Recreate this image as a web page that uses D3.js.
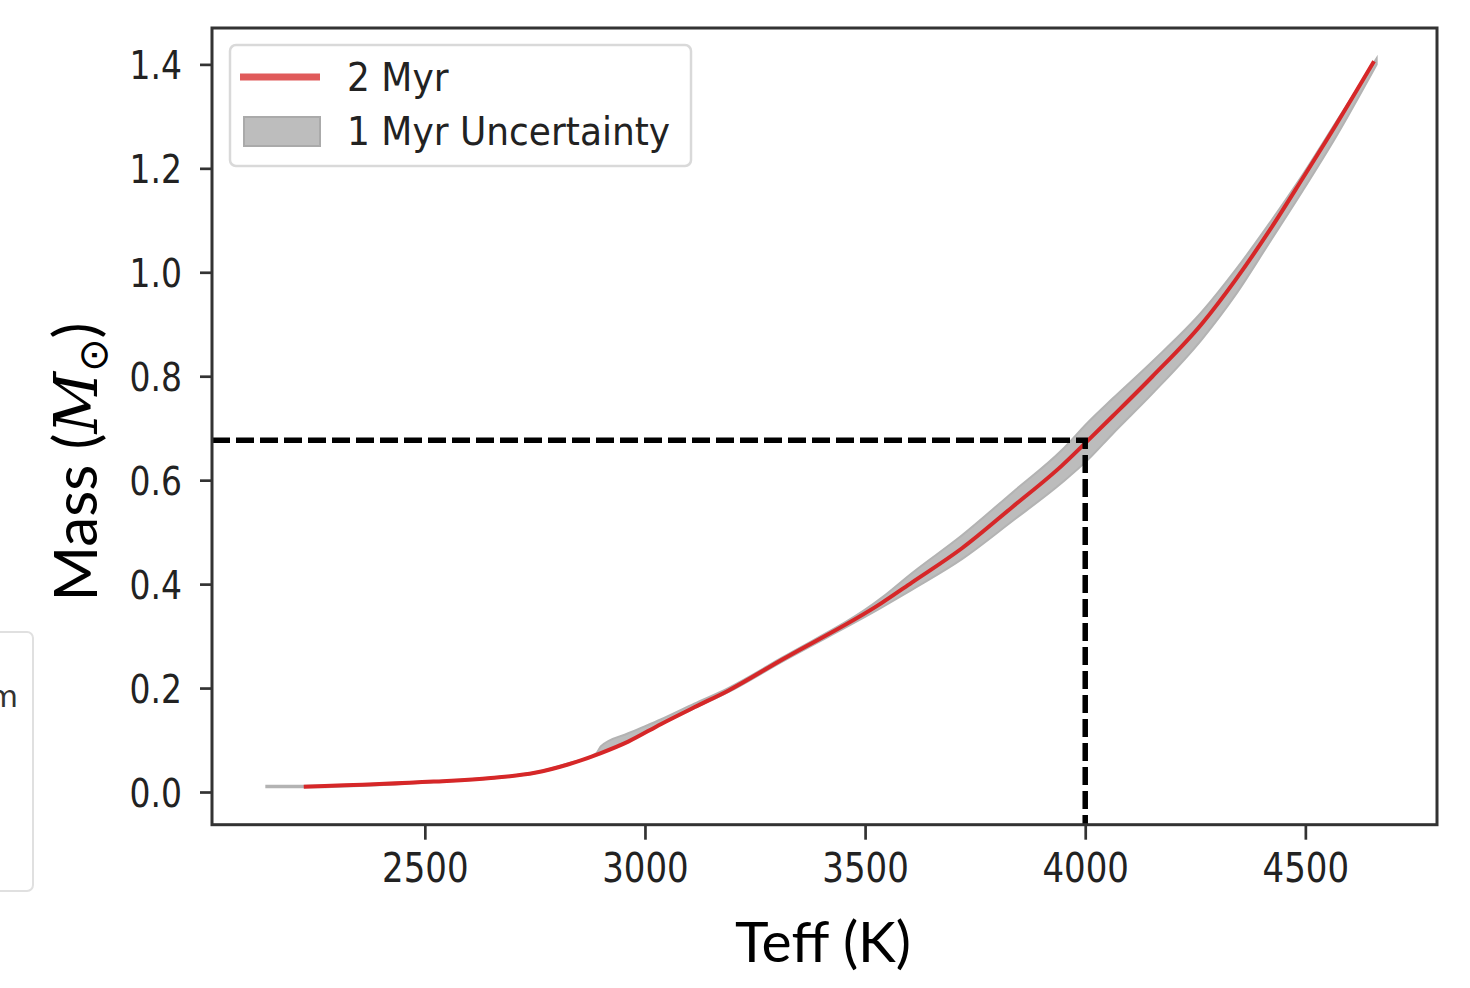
<!DOCTYPE html>
<html>
<head>
<meta charset="utf-8">
<script src="https://cdn.jsdelivr.net/npm/d3@7"></script>
<style>
  html, body { margin: 0; padding: 0; background: #fff; }
  svg { display: block; }
</style>
</head>
<body>
<div id="wrapper"></div>
<script>
// 2 Myr track (red line)
const teff2 = [2225, 2520, 2650, 2750, 2825, 2900, 2962, 3037, 3112, 3189, 3310, 3538, 3606, 3720, 3834, 3947, 4007, 4061, 4152, 4266, 4341, 4419, 4494, 4569, 4656];
const mass2 = [0.010, 0.020, 0.027, 0.037, 0.053, 0.075, 0.097, 0.131, 0.163, 0.195, 0.254, 0.364, 0.403, 0.469, 0.548, 0.628, 0.677, 0.722, 0.799, 0.902, 0.985, 1.081, 1.181, 1.283, 1.406];

// 1 Myr uncertainty band (grey)
const bandTeff = [2140, 2225, 2520, 2650, 2750, 2825, 2890, 2900, 2962, 3037, 3112, 3189, 3310, 3538, 3606, 3720, 3834, 3947, 4007, 4061, 4152, 4266, 4341, 4419, 4494, 4569, 4662];
const bandLo = [0.009, 0.009, 0.019, 0.026, 0.036, 0.052, 0.072, 0.075, 0.098, 0.130, 0.161, 0.192, 0.250, 0.355, 0.389, 0.448, 0.521, 0.595, 0.640, 0.688, 0.766, 0.872, 0.956, 1.058, 1.157, 1.260, 1.400];
const bandHi = [0.012, 0.012, 0.021, 0.028, 0.038, 0.055, 0.075, 0.088, 0.113, 0.140, 0.170, 0.200, 0.258, 0.374, 0.421, 0.494, 0.576, 0.658, 0.712, 0.756, 0.828, 0.925, 1.004, 1.095, 1.188, 1.288, 1.412];

// reference point marked by the dashed lines
const markTeff = 4000;
const markMass = 0.677;

const xTicks = [2500, 3000, 3500, 4000, 4500];
const yTicks = [0.0, 0.2, 0.4, 0.6, 0.8, 1.0, 1.2, 1.4];
const legendLabels = ["2 Myr", "1 Myr Uncertainty"];

function drawChart() {
  const dimensions = {
    width: 1470,
    height: 988,
    left: 212,
    top: 28,
    right: 1437,
    bottom: 824.7,
  };

  const svg = d3
    .select("#wrapper")
    .append("svg")
    .attr("width", dimensions.width)
    .attr("height", dimensions.height);

  const x = d3
    .scaleLinear()
    .domain([2016.6, 4799])
    .range([dimensions.left, dimensions.right]);

  const y = d3
    .scaleLinear()
    .domain([-0.0629, 1.47])
    .range([dimensions.bottom, dimensions.top]);

  // partial legend box cut off at the left edge
  svg
    .append("rect")
    .attr("x", -10)
    .attr("y", 632)
    .attr("width", 43)
    .attr("height", 259)
    .attr("rx", 6)
    .attr("fill", "#fff")
    .attr("stroke", "#e0e0e0")
    .attr("stroke-width", 2);
  svg
    .append("text")
    .attr("x", 18)
    .attr("y", 707)
    .attr("text-anchor", "end")
    .attr("font-family", "DejaVu Sans")
    .attr("font-size", 30)
    .attr("fill", "#333")
    .text("m");

  const plot = svg.append("g");

  // grey band
  const area = d3
    .area()
    .x((d, i) => x(bandTeff[i]))
    .y0((d, i) => y(bandLo[i]))
    .y1((d, i) => y(bandHi[i]))
    .curve(d3.curveMonotoneX);

  plot
    .append("path")
    .datum(bandTeff)
    .attr("d", area)
    .attr("fill", "#bcbcbc")
    .attr("stroke", "#b3b3b3")
    .attr("stroke-width", 2);

  // red line
  const line = d3
    .line()
    .x((d, i) => x(teff2[i]))
    .y((d, i) => y(mass2[i]))
    .curve(d3.curveMonotoneX);

  plot
    .append("path")
    .datum(teff2)
    .attr("d", line)
    .attr("fill", "none")
    .attr("stroke", "#d62728")
    .attr("stroke-width", 4);

  // dashed guide lines
  plot
    .append("path")
    .attr(
      "d",
      `M${x.range()[0]},${y(markMass)}H${x(markTeff)}V${y.range()[0]}`
    )
    .attr("fill", "none")
    .attr("stroke", "#000")
    .attr("stroke-width", 5.5)
    .attr("stroke-dasharray", "18 6");

  // axes
  const xAxis = svg
    .append("g")
    .attr("transform", `translate(0, ${dimensions.bottom})`)
    .call(d3.axisBottom(x).tickValues(xTicks).tickSize(15).tickFormat(d3.format("d")));

  const yAxis = svg
    .append("g")
    .attr("transform", `translate(${dimensions.left}, 0)`)
    .call(d3.axisLeft(y).tickValues(yTicks).tickSize(12).tickFormat(d3.format(".1f")));

  [xAxis, yAxis].forEach((ax) => {
    ax.select(".domain").remove();
    ax.selectAll(".tick line").attr("stroke", "#333").attr("stroke-width", 2.7);
    ax.selectAll(".tick text")
      .attr("fill", "#222")
      .attr("font-family", "DejaVu Sans")
      .attr("font-size", 34);
  });

  xAxis
    .selectAll(".tick text")
    .attr("y", 0)
    .attr("dy", 0)
    .attr("transform", "translate(0, 57) scale(1, 1.2)");

  yAxis
    .selectAll(".tick text")
    .attr("x", 0)
    .attr("dy", 0)
    .attr("font-size", 33)
    .attr("transform", "translate(-30, 14.5) scale(1, 1.2)");

  // frame
  svg
    .append("rect")
    .attr("x", dimensions.left)
    .attr("y", dimensions.top)
    .attr("width", dimensions.right - dimensions.left)
    .attr("height", dimensions.bottom - dimensions.top)
    .attr("fill", "none")
    .attr("stroke", "#333")
    .attr("stroke-width", 3);

  // legend
  const legend = svg.append("g");
  legend
    .append("rect")
    .attr("x", 230)
    .attr("y", 45)
    .attr("width", 461)
    .attr("height", 121)
    .attr("rx", 6)
    .attr("fill", "#fff")
    .attr("fill-opacity", 0.85)
    .attr("stroke", "#d9d9d9")
    .attr("stroke-width", 2.5);

  legend
    .append("line")
    .attr("x1", 240)
    .attr("x2", 320)
    .attr("y1", 77)
    .attr("y2", 77)
    .attr("stroke", "#e05a5a")
    .attr("stroke-width", 7);

  legend
    .append("rect")
    .attr("x", 244)
    .attr("y", 117)
    .attr("width", 76)
    .attr("height", 29)
    .attr("fill", "#bdbdbd")
    .attr("stroke", "#aaaaaa")
    .attr("stroke-width", 2);

  legend
    .selectAll("text")
    .data(legendLabels)
    .join("text")
    .attr("transform", (d, i) => `translate(347, ${91 + i * 54}) scale(1, 1.08)`)
    .attr("font-family", "DejaVu Sans")
    .attr("font-size", 36)
    .attr("fill", "#222")
    .text((d) => d);

  // axis titles
  svg
    .append("text")
    .attr("x", 823)
    .attr("y", 962)
    .attr("text-anchor", "middle")
    .attr("font-family", "Lato")
    .attr("font-size", 57)
    .attr("fill", "#000")
    .text("Teff (K)");

  const yTitle = svg
    .append("text")
    .attr("transform", "translate(97, 462) rotate(-90)")
    .attr("text-anchor", "middle")
    .attr("font-family", "Lato")
    .attr("font-size", 60)
    .attr("fill", "#000");
  yTitle.append("tspan").text("Mass (");
  yTitle
    .append("tspan")
    .attr("font-family", "DejaVu Serif")
    .attr("font-style", "italic")
    .text("M");
  yTitle
    .append("tspan")
    .attr("font-family", "DejaVu Sans")
    .attr("font-size", 40)
    .attr("dy", 10)
    .text("\u2299");
  yTitle.append("tspan").attr("dy", -10).text(")");
}

drawChart();
</script>
</body>
</html>
